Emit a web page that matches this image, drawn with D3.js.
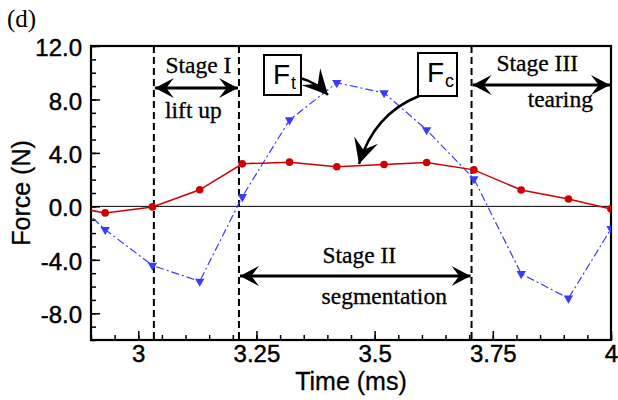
<!DOCTYPE html>
<html><head><meta charset="utf-8">
<script src="https://cdn.jsdelivr.net/npm/d3@7"></script>
<style>
html,body{margin:0;padding:0;background:#fff;}
svg{display:block;}
.sans{font-family:"Liberation Sans",Arial,Helvetica,sans-serif;}
.serif{font-family:"Liberation Serif","Times New Roman",Times,serif;}
</style></head>
<body>
<svg id="chart" width="618" height="400"></svg>
<script>
// ---- data ----
const time = [2.83, 2.93, 3.03, 3.13, 3.22, 3.32, 3.42, 3.52, 3.61, 3.71, 3.81, 3.91, 4.00];
const forceFc = [0.14, -0.49, -0.04, 1.24, 3.18, 3.31, 2.96, 3.13, 3.28, 2.73, 1.22, 0.55, -0.19];
const forceFt = [1.56, -1.74, -4.42, -5.61, 0.72, 6.46, 9.25, 8.49, 5.72, 2.06, -5.04, -6.88, -1.68];
const xTicks = [3, 3.25, 3.5, 3.75, 4];
const xTickLabels = ["3", "3.25", "3.5", "3.75", "4"];
const yTicks = [12, 8, 4, 0, -4, -8];
const yTickLabels = ["12.0", "8.0", "4.0", "0.0", "-4.0", "-8.0"];
const stageBounds = [3.033, 3.213, 3.705, 4.0];
const stageNames = ["Stage I", "Stage II", "Stage III"];
const stageDesc = ["lift up", "segmentation", "tearing"];

const W = 618, H = 400;
const margin = {left: 91, top: 46, right: 7, bottom: 60};
const svg = d3.select("#chart");
const x = d3.scaleLinear().domain([2.9, 4]).range([margin.left, W - margin.right]);
const y = d3.scaleLinear().domain([-10, 12]).range([H - margin.bottom, margin.top]);
const x0 = margin.left, x1 = W - margin.right, y0 = margin.top, y1 = H - margin.bottom;

const defs = svg.append("defs");
defs.append("clipPath").attr("id", "clip").append("rect")
  .attr("x", x0).attr("y", y0).attr("width", x1 - x0).attr("height", y1 - y0);
function arrowMarker(id, L, Wd, notch) {
  defs.append("marker").attr("id", id)
    .attr("viewBox", `${-L} ${-Wd} ${L} ${2 * Wd}`)
    .attr("refX", 0).attr("refY", 0)
    .attr("markerUnits", "userSpaceOnUse")
    .attr("markerWidth", L).attr("markerHeight", 2 * Wd)
    .attr("orient", "auto-start-reverse")
    .append("path")
    .attr("d", `M0,0 L${-L},${-Wd} L${-L * notch},0 L${-L},${Wd} Z`)
    .attr("fill", "#000");
}
arrowMarker("ahS", 19, 10, 0.6);
arrowMarker("ahB", 25, 12.5, 0.6);

// zero line
svg.append("line").attr("x1", x0).attr("x2", x1).attr("y1", y(0)).attr("y2", y(0))
  .attr("stroke", "#000").attr("stroke-width", 1);

// axes
const xMinor = d3.range(2.9, 4.0001, 0.05).map(v => +v.toFixed(2));
const yMinor = d3.range(-10, 12.0001, 1);
const labelStyle = g => g.selectAll("text").attr("font-size", 24).attr("fill", "#000")
  .attr("stroke", "#000").attr("stroke-width", 0.45)
  .attr("font-family", "Liberation Sans, Arial, sans-serif");
svg.append("g").attr("transform", `translate(0,${y1})`)
  .call(d3.axisBottom(x).tickValues(xMinor).tickSize(-5).tickFormat(""))
  .call(g => g.select(".domain").remove())
  .call(g => g.selectAll("line").attr("stroke-width", 1.5));
svg.append("g").attr("transform", `translate(0,${y1})`)
  .call(d3.axisBottom(x).tickValues(xTicks).tickSize(-9).tickPadding(5)
    .tickFormat((d, i) => xTickLabels[i]))
  .call(g => g.select(".domain").remove())
  .call(g => g.selectAll("line").attr("stroke-width", 1.5))
  .call(labelStyle);
svg.append("g").attr("transform", `translate(${x0},0)`)
  .call(d3.axisLeft(y).tickValues(yMinor).tickSize(-5).tickFormat(""))
  .call(g => g.select(".domain").remove())
  .call(g => g.selectAll("line").attr("stroke-width", 1.5));
svg.append("g").attr("transform", `translate(${x0},0)`)
  .call(d3.axisLeft(y).tickValues(yTicks).tickSize(-9).tickPadding(9)
    .tickFormat((d, i) => yTickLabels[i]))
  .call(g => g.select(".domain").remove())
  .call(g => g.selectAll("line").attr("stroke-width", 1.5))
  .call(labelStyle)
  .call(g => g.selectAll("text").attr("dy", "0.4em"));

// frame
svg.append("rect").attr("x", x0).attr("y", y0).attr("width", x1 - x0).attr("height", y1 - y0)
  .attr("fill", "none").attr("stroke", "#000").attr("stroke-width", 2.2);

// stage boundary dashed lines
svg.append("g").selectAll("line").data(stageBounds.slice(0, 3)).join("line")
  .attr("x1", d => x(d)).attr("x2", d => x(d)).attr("y1", y0).attr("y2", y1)
  .attr("stroke", "#000").attr("stroke-width", 2).attr("stroke-dasharray", "7,4");

// data
const plot = svg.append("g").attr("clip-path", "url(#clip)");
const pts = time.map((t, i) => ({t, fc: forceFc[i], ft: forceFt[i]}));
plot.append("path").datum(pts)
  .attr("d", d3.line().x(d => x(d.t)).y(d => y(d.ft)))
  .attr("fill", "none").attr("stroke", "#3a3aff").attr("stroke-width", 1.2)
  .attr("stroke-dasharray", "8,3,2,3");
plot.selectAll(".tri").data(pts).join("path").attr("class", "tri")
  .attr("d", d3.symbol(d3.symbolTriangle, 38))
  .attr("transform", d => `translate(${x(d.t)},${y(d.ft)}) rotate(180)`)
  .attr("fill", "#3a3aff");
plot.append("path").datum(pts)
  .attr("d", d3.line().x(d => x(d.t)).y(d => y(d.fc)))
  .attr("fill", "none").attr("stroke", "#d10000").attr("stroke-width", 1.5);
plot.selectAll(".dot").data(pts).join("circle").attr("class", "dot")
  .attr("cx", d => x(d.t)).attr("cy", d => y(d.fc)).attr("r", 3.8)
  .attr("fill", "#d10000");

// stage annotations
const stageY = [88, 276, 85];
const nameY = [73, 263, 71];
const descY = [118, 304, 107];
const nameDx = [2, 4, -4];
const descDx = [-3, 29, 19];
stageNames.forEach((s, i) => {
  const a = x(stageBounds[i]), b = x(stageBounds[i + 1]);
  svg.append("line").attr("x1", a + 1).attr("x2", b - 1).attr("y1", stageY[i]).attr("y2", stageY[i])
    .attr("stroke", "#000").attr("stroke-width", 3)
    .attr("marker-start", "url(#ahS)").attr("marker-end", "url(#ahS)");
  svg.append("text").attr("class", "serif").attr("x", (a + b) / 2 + nameDx[i]).attr("y", nameY[i])
    .attr("text-anchor", "middle").attr("font-size", 23.5)
    .attr("stroke", "#000").attr("stroke-width", 0.3).text(s);
  svg.append("text").attr("class", "serif").attr("x", (a + b) / 2 + descDx[i]).attr("y", descY[i])
    .attr("text-anchor", "middle").attr("font-size", 23.5)
    .attr("stroke", "#000").attr("stroke-width", 0.3).text(stageDesc[i]);
});

// labelled boxes with curved arrows
function labelBox(bx, by, bw, bh, sub, subDx) {
  svg.append("rect").attr("x", bx).attr("y", by).attr("width", bw).attr("height", bh)
    .attr("fill", "#fff").attr("stroke", "#000").attr("stroke-width", 2);
  const t = svg.append("text").attr("class", "sans").attr("x", bx + 9).attr("y", by + 29)
    .attr("font-size", 28);
  t.append("tspan").text("F");
  t.append("tspan").attr("dx", subDx).attr("dy", 5).attr("font-size", 18).text(sub);
}
svg.append("path").attr("d", "M300,78 Q316,82 328,95").attr("fill", "none")
  .attr("stroke", "#000").attr("stroke-width", 2.5).attr("marker-end", "url(#ahB)");
svg.append("path").attr("d", "M419,96 Q374,114 359,164").attr("fill", "none")
  .attr("stroke", "#000").attr("stroke-width", 2.5).attr("marker-end", "url(#ahB)");
labelBox(264, 55, 37, 40, "t", 1);
labelBox(418, 53, 39, 43, "c", 1);

// titles
svg.append("text").attr("class", "serif").attr("x", 7).attr("y", 27).attr("font-size", 25).text("(d)");
svg.append("text").attr("class", "sans").attr("x", (x0 + x1) / 2).attr("y", 390)
  .attr("text-anchor", "middle").attr("font-size", 25)
  .attr("stroke", "#000").attr("stroke-width", 0.3).text("Time (ms)");
svg.append("text").attr("class", "sans")
  .attr("transform", `translate(30,${(y0 + y1) / 2}) rotate(-90)`)
  .attr("text-anchor", "middle").attr("font-size", 25)
  .attr("stroke", "#000").attr("stroke-width", 0.3).text("Force (N)");
</script>
</body></html>
